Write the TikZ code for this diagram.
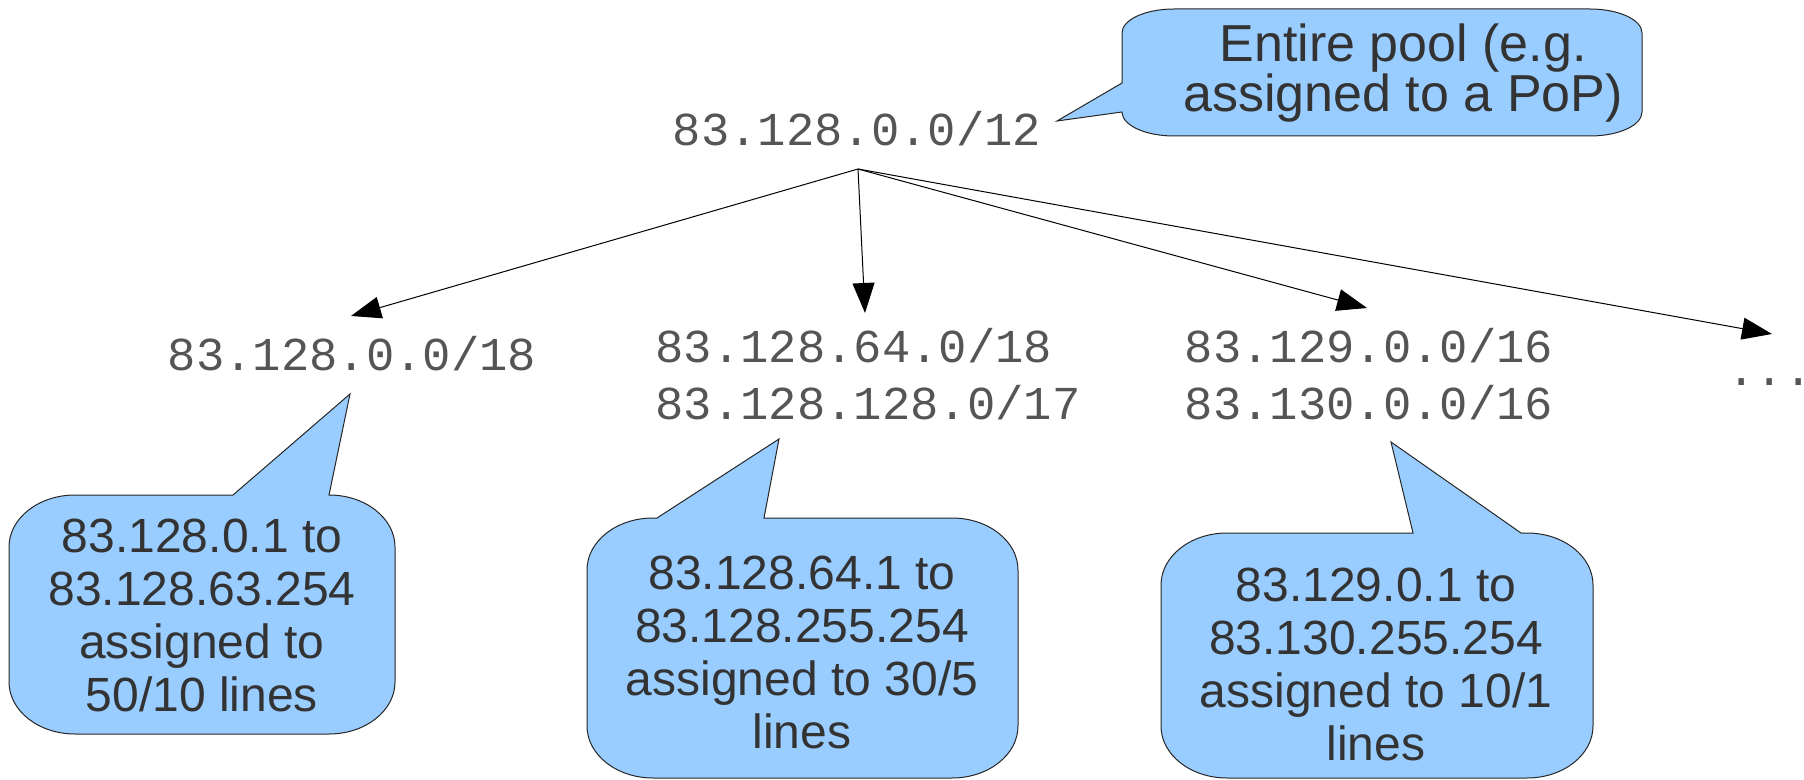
\documentclass[tikz,border=0pt]{standalone}
\usepackage{fontspec}
\setmainfont{Liberation Sans}
\newfontfamily\monofont{Liberation Mono}
\usetikzlibrary{arrows.meta}
\definecolor{bubblefill}{HTML}{99CCFF}
\definecolor{txtgray}{HTML}{333333}
\definecolor{monogray}{HTML}{555555}
\begin{document}
\begin{tikzpicture}[x=0.5pt,y=-0.5pt,
  bubble/.style={fill=bubblefill,draw=black!85,line width=0.5pt,line join=miter},
  btext/.style={align=center,text=txtgray,font=\fontsize{24}{26.5}\selectfont,inner sep=0pt},
  mtext/.style={text=monogray,font=\monofont\fontsize{23.6}{28.75}\selectfont,inner sep=0pt},
  link/.style={line width=0.5pt,-{Triangle[length=15pt,width=11pt]}}]
\useasboundingbox (0,0) rectangle (1804,780);

% ---- callouts ----
\coordinate (tipD) at (1057,121);
\draw[bubble] (1174,9) -- (1590,9)
  arc[start angle=90,end angle=0,x radius=26pt,y radius=12pt] -- (1642,112)
  arc[start angle=0,end angle=-90,x radius=26pt,y radius=12pt] -- (1174,136)
  arc[start angle=-90,end angle=-180,x radius=26pt,y radius=12pt]
  -- (tipD) -- (1122,83) -- (1122,33)
  arc[start angle=180,end angle=90,x radius=26pt,y radius=12pt] -- cycle;

\coordinate (tipA) at (350,394);
\draw[bubble] (233,495) -- (tipA) -- (329,495)
  arc[start angle=90,end angle=0,x radius=33pt,y radius=26pt] -- (395,682)
  arc[start angle=0,end angle=-90,x radius=33pt,y radius=26pt] -- (75,734)
  arc[start angle=-90,end angle=-180,x radius=33pt,y radius=26pt] -- (9,547)
  arc[start angle=180,end angle=90,x radius=33pt,y radius=26pt] -- cycle;

\coordinate (tipB) at (779,439);
\draw[bubble] (657,518) -- (tipB) -- (764,518) -- (952,518)
  arc[start angle=90,end angle=0,x radius=33pt,y radius=26pt] -- (1018,726)
  arc[start angle=0,end angle=-90,x radius=33pt,y radius=26pt] -- (653,778)
  arc[start angle=-90,end angle=-180,x radius=33pt,y radius=26pt] -- (587,570)
  arc[start angle=180,end angle=90,x radius=33pt,y radius=26pt] -- cycle;

\coordinate (tipC) at (1391,442);
\draw[bubble] (1413,533) -- (tipC) -- (1521,533) -- (1527,533)
  arc[start angle=90,end angle=0,x radius=33pt,y radius=26pt] -- (1593,726)
  arc[start angle=0,end angle=-90,x radius=33pt,y radius=26pt] -- (1227,778)
  arc[start angle=-90,end angle=-180,x radius=33pt,y radius=26pt] -- (1161,585)
  arc[start angle=180,end angle=90,x radius=33pt,y radius=26pt] -- cycle;

% ---- callout texts ----
\node[btext,font=\fontsize{26}{25}\selectfont] (tD) at (1403,73) {Entire pool (e.g.\\assigned to a PoP)};
\node[btext] (tA) at (202,615) {83.128.0.1 to\\83.128.63.254\\assigned to\\50/10 lines};
\node[btext] (tB) at (802,652) {83.128.64.1 to\\83.128.255.254\\assigned to 30/5\\lines};
\node[btext] (tC) at (1376,664) {83.129.0.1 to\\83.130.255.254\\assigned to 10/1\\lines};

% ---- address nodes ----
\node[mtext] (n0) at (857,129) {83.128.0.0/12};
\node[mtext] (n1) at (352,354) {83.128.0.0/18};
\node[mtext,align=left] (n2) at (868,374) {83.128.64.0/18\\83.128.128.0/17};
\node[mtext,align=left] (n3) at (1369,374) {83.129.0.0/16\\83.130.0.0/16};
\node[mtext,anchor=base west] (n4) at (1727,386) {...};

% ---- connectors ----
\coordinate (src) at (858,169);
\coordinate (a1) at (351,316);
\coordinate (a2) at (865,313);
\coordinate (a3) at (1367,308);
\coordinate (a4) at (1772,334);
\draw[link] (src) -- (a1);
\draw[link] (src) -- (a2);
\draw[link] (src) -- (a3);
\draw[link] (src) -- (a4);
\end{tikzpicture}
\end{document}
